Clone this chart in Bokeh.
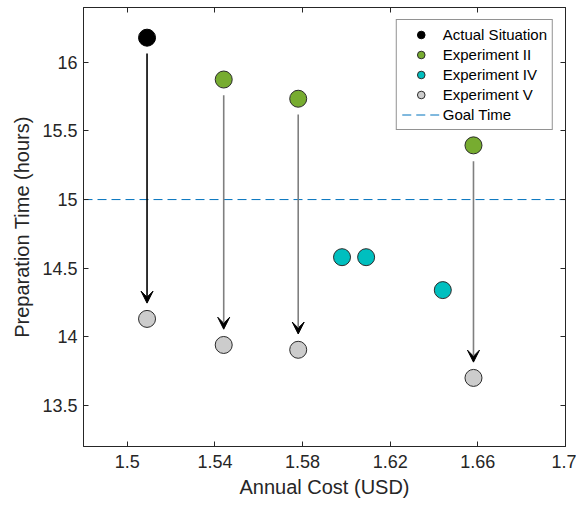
from bokeh.plotting import figure
from bokeh.models import (Range1d, FixedTicker, NumeralTickFormatter, LinearAxis, Arrow,
                          VeeHead, CustomJSTickFormatter)
from bokeh.embed import file_html
from bokeh.resources import INLINE

# ---- data ----
actual_x = [1.509]
actual_y = [16.18]
exp2_x = [1.544, 1.578, 1.658]
exp2_y = [15.875, 15.735, 15.395]
exp4_x = [1.598, 1.609, 1.644]
exp4_y = [14.58, 14.58, 14.34]
exp5_x = [1.509, 1.544, 1.578, 1.658]
exp5_y = [14.13, 13.94, 13.905, 13.70]
goal_time = 15.0
x_ticks = [1.5, 1.54, 1.58, 1.62, 1.66, 1.7]
y_ticks = [13.5, 14, 14.5, 15, 15.5, 16]
x_lim = (1.48, 1.70)
y_lim = (13.2, 16.4)

FONT = "Liberation Sans"
DARK = "#262626"

p = figure(width=576, height=500, x_range=Range1d(*x_lim), y_range=Range1d(*y_lim),
           output_backend="svg", toolbar_location=None,
           min_border_left=83, min_border_right=11, min_border_top=7, min_border_bottom=50)
p.xgrid.visible = False
p.ygrid.visible = False
p.outline_line_color = DARK
p.outline_line_width = 1

p.xaxis.axis_label = "Annual Cost (USD)"
p.yaxis.axis_label = "Preparation Time (hours)"
for ax in (p.xaxis[0], p.yaxis[0]):
    ax.axis_label_text_font = FONT
    ax.axis_label_text_font_size = "20px"
    ax.axis_label_text_font_style = "normal"
    ax.axis_label_text_color = DARK
    ax.major_label_text_font = FONT
    ax.major_label_text_font_size = "18px"
    ax.major_label_text_color = DARK
    ax.axis_line_color = DARK
    ax.major_tick_line_color = DARK
    ax.major_tick_in = 5
    ax.major_tick_out = 0
    ax.minor_tick_line_color = None
    ax.formatter = NumeralTickFormatter(format="0.[00]")
p.xaxis[0].ticker = FixedTicker(ticks=x_ticks)
p.yaxis[0].ticker = FixedTicker(ticks=y_ticks)
p.xaxis[0].major_label_standoff = 8
p.xaxis[0].axis_label_standoff = 5
p.yaxis[0].major_label_standoff = 6
p.yaxis[0].axis_label_standoff = 6

for loc, tk in (("above", x_ticks), ("right", y_ticks)):
    ax = LinearAxis(ticker=FixedTicker(ticks=tk),
                    formatter=CustomJSTickFormatter(code="return ''"),
                    major_label_standoff=0, major_tick_in=5, major_tick_out=0,
                    minor_tick_line_color=None, axis_line_color=DARK,
                    major_tick_line_color=DARK)
    p.add_layout(ax, loc)

# goal line
p.line(x=list(x_lim), y=[goal_time, goal_time], line_color="#0072BD", line_width=1,
       line_dash="9 5", legend_label="Goal Time")

# arrows from start to end state
offset = 0.115
starts_x = actual_x + exp2_x
starts_y = actual_y + exp2_y
arrow_colors = ["black"] + ["#7f7f7f"] * len(exp2_x)
for sx, sy, ex, ey, c in zip(starts_x, starts_y, exp5_x, exp5_y, arrow_colors):
    p.add_layout(Arrow(x_start=sx, y_start=sy - offset, x_end=ex, y_end=ey + offset,
                       line_color=c, line_width=1.6,
                       end=VeeHead(size=12, fill_color="black", line_color="black", line_width=1)))

SIZE = 17
p.scatter(actual_x, actual_y, size=SIZE, fill_color="black", line_color="black",
          legend_label="Actual Situation")
p.scatter(exp2_x, exp2_y, size=SIZE, fill_color="#77AC30", line_color="#2b2b2b",
          line_width=1, legend_label="Experiment II")
p.scatter(exp4_x, exp4_y, size=SIZE, fill_color="#00BFBF", line_color="#2b2b2b",
          line_width=1, legend_label="Experiment IV")
p.scatter(exp5_x, exp5_y, size=SIZE, fill_color="#CCCCCC", line_color="#2b2b2b",
          line_width=1, legend_label="Experiment V")

# legend order
leg = p.legend[0]
items = {it.label.value: it for it in leg.items}
leg.items = [items[k] for k in ["Actual Situation", "Experiment II", "Experiment IV",
                                "Experiment V", "Goal Time"]]
leg.location = "top_right"
leg.margin = 12
leg.padding = 5
leg.spacing = 1
leg.glyph_width = 38
leg.glyph_height = 19
leg.label_height = 19
leg.label_standoff = 3
leg.label_text_font = FONT
leg.label_text_font_size = "15px"
leg.label_text_color = "black"
leg.border_line_color = DARK
leg.border_line_width = 1
leg.background_fill_color = "white"
leg.background_fill_alpha = 1

open("out.html", "w").write(file_html(p, INLINE))
